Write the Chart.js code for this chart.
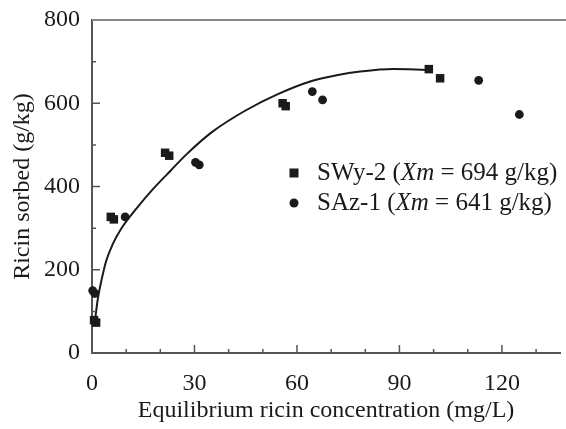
<!DOCTYPE html>
<html>
<head>
<meta charset="UTF-8">
<title>Ricin sorption</title>
<script src="https://cdn.jsdelivr.net/npm/chart.js"></script>
<style>
  html, body { margin: 0; padding: 0; background: #fff; overflow: hidden; }
  canvas { display: block; }
</style>
</head>
<body>
<canvas id="c" width="566" height="429"></canvas>
<script>
// data
const swy2 = [[0.6,79],[1.2,73],[5.5,327],[6.4,321],[21.4,481],[22.6,474],[55.8,600],[56.7,593],[98.6,682],[101.9,660]];
const saz1 = [[0.2,150],[0.8,143],[9.7,327],[30.3,458],[31.4,452],[64.5,628],[67.5,608],[113.2,655],[125.1,573]];
const fitCurve = [[0.9,80],[1.7,130],[2.7,172],[4.1,220],[6.1,262],[8.5,298],[13.3,350],[18.1,396],[23,438],[27.5,476],[35,530],[44.8,582],[54.4,622],[64.1,653],[72,668],[78.5,676],[88.2,682],[97.8,680]];

const xMajor = [0,30,60,90,120];
const xMinor = [10,20,40,50,70,80,100,110,130];
const yMajor = [0,200,400,600,800];
const yMinor = [100,300,500,700];

const legendRows = [
  { marker: 'rect', name: 'SWy-2', xm: '694' },
  { marker: 'circle', name: 'SAz-1', xm: '641' }
];

const serif = "'Liberation Serif', 'Times New Roman', serif";
const ink = '#1a1a1a';

const toXY = arr => arr.map(p => ({ x: p[0], y: p[1] }));

// inward tick marks, top border and the legend
const decor = {
  id: 'decor',
  afterDraw(chart) {
    const ctx = chart.ctx;
    const xs = chart.scales.x, ys = chart.scales.y;
    const a = chart.chartArea;
    ctx.save();
    ctx.strokeStyle = '#555';
    ctx.lineWidth = 1.5;
    ctx.beginPath();
    xMajor.forEach(v => { const px = xs.getPixelForValue(v); ctx.moveTo(px, a.bottom); ctx.lineTo(px, a.bottom - 8); });
    xMinor.forEach(v => { const px = xs.getPixelForValue(v); ctx.moveTo(px, a.bottom); ctx.lineTo(px, a.bottom - 4); });
    yMajor.forEach(v => { const py = ys.getPixelForValue(v); ctx.moveTo(a.left, py); ctx.lineTo(a.left + 8, py); });
    yMinor.forEach(v => { const py = ys.getPixelForValue(v); ctx.moveTo(a.left, py); ctx.lineTo(a.left + 4, py); });
    ctx.stroke();

    // top frame line
    ctx.strokeStyle = '#888';
    ctx.lineWidth = 2;
    ctx.beginPath();
    ctx.moveTo(a.left, a.top);
    ctx.lineTo(chart.width, a.top);
    ctx.stroke();

    // legend
    const mx = 294, tx = 317;
    legendRows.forEach((row, i) => {
      const y = 173 + i * 30;
      ctx.fillStyle = ink;
      if (row.marker === 'rect') {
        ctx.fillRect(mx - 4.5, y - 4.5, 9, 9);
      } else {
        ctx.beginPath();
        ctx.arc(mx, y, 4.5, 0, Math.PI * 2);
        ctx.fill();
      }
      ctx.textBaseline = 'middle';
      ctx.textAlign = 'left';
      let x = tx;
      const parts = [
        [row.name + ' (', 'normal'],
        ['Xm', 'italic'],
        [' = ' + row.xm + ' g/kg)', 'normal']
      ];
      parts.forEach(([t, st]) => {
        ctx.font = st + ' 25px ' + serif;
        ctx.fillText(t, x, y);
        x += ctx.measureText(t).width;
      });
    });
    ctx.restore();
  }
};

new Chart(document.getElementById('c'), {
  type: 'scatter',
  data: {
    datasets: [
      {
        label: 'fit',
        type: 'line',
        data: toXY(fitCurve),
        borderColor: ink,
        borderWidth: 2,
        pointRadius: 0,
        fill: false,
        cubicInterpolationMode: 'monotone'
      },
      {
        label: 'SWy-2',
        data: toXY(swy2),
        pointStyle: 'rect',
        pointRadius: 6,
        backgroundColor: ink,
        borderColor: ink,
        borderWidth: 0,
        clip: false
      },
      {
        label: 'SAz-1',
        data: toXY(saz1),
        pointStyle: 'circle',
        pointRadius: 4.4,
        backgroundColor: ink,
        borderColor: ink,
        borderWidth: 0,
        clip: false
      }
    ]
  },
  options: {
    responsive: false,
    animation: false,
    devicePixelRatio: 1,
    layout: { padding: { top: 20, right: 0, left: 0, bottom: 0 } },
    plugins: { legend: { display: false }, tooltip: { enabled: false } },
    scales: {
      x: {
        type: 'linear',
        min: 0,
        max: 137,
        grid: { display: false },
        border: { display: true, color: '#555', width: 2 },
        afterBuildTicks: s => { s.ticks = xMajor.map(v => ({ value: v })); },
        afterFit: s => { s.height = 76; },
        ticks: { color: ink, padding: 8, font: { family: serif, size: 24 }, maxRotation: 0 },
        title: {
          display: true,
          text: 'Equilibrium ricin concentration (mg/L)',
          color: ink,
          font: { family: serif, size: 24 },
          padding: { top: 0, bottom: 4 }
        }
      },
      y: {
        type: 'linear',
        min: 0,
        max: 800,
        grid: { display: false },
        border: { display: true, color: '#555', width: 2 },
        afterBuildTicks: s => { s.ticks = yMajor.map(v => ({ value: v })); },
        afterFit: s => { s.width = 92; },
        ticks: { color: ink, padding: 4, font: { family: serif, size: 24 } },
        title: {
          display: true,
          text: 'Ricin sorbed (g/kg)',
          color: ink,
          font: { family: serif, size: 24 },
          padding: { top: 8, bottom: 0 }
        }
      }
    }
  },
  plugins: [decor]
});
</script>
</body>
</html>
